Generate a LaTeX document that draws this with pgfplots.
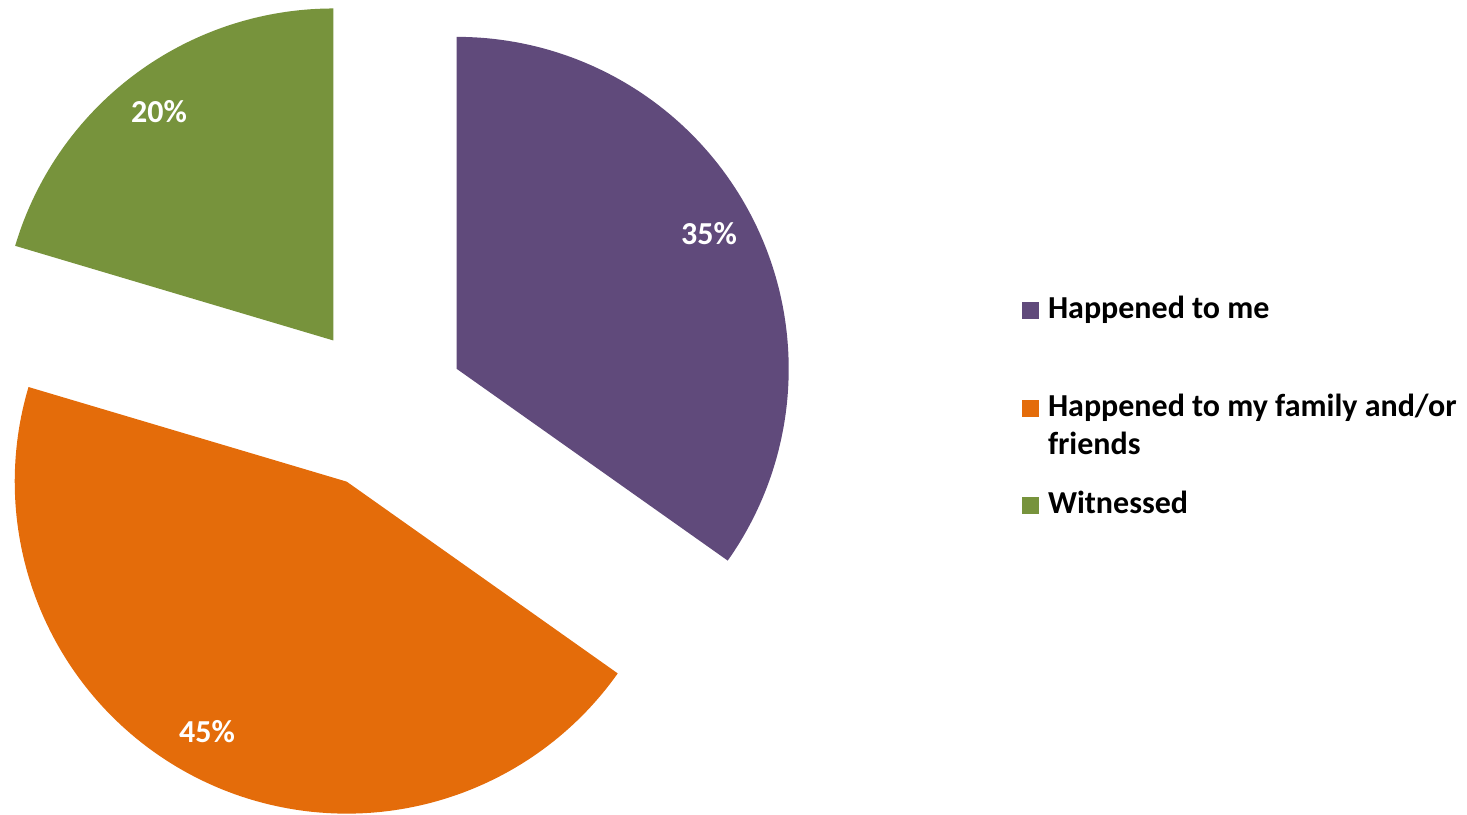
\documentclass[border=0pt]{standalone}
\usepackage{fontspec}
\setmainfont{Carlito}
\usepackage{pgfplots}
\pgfplotsset{compat=1.18}
\definecolor{purp}{HTML}{604A7B}
\definecolor{orng}{HTML}{E46C0A}
\definecolor{grn}{HTML}{77933C}
% shares (percent)
\def\vA{34.8}\def\vB{44.8}\def\vC{20.4}
% pie geometry in axis units (1 unit = 0.5pt)
\def\R{332}\def\D{83}\def\cx{383}\def\cy{407}
\pgfmathsetmacro\aA{90}
\pgfmathsetmacro\aB{\aA-3.6*\vA}
\pgfmathsetmacro\aC{\aB-3.6*\vB}
\pgfmathsetmacro\aD{\aC-3.6*\vC}
\pgfmathsetmacro\mA{(\aA+\aB)/2}
\pgfmathsetmacro\mB{(\aB+\aC)/2}
\pgfmathsetmacro\mC{(\aC+\aD)/2}
\pgfmathsetmacro\xA{\cx+\D*cos(\mA)}\pgfmathsetmacro\yA{\cy+\D*sin(\mA)}
\pgfmathsetmacro\xB{\cx+\D*cos(\mB)}\pgfmathsetmacro\yB{\cy+\D*sin(\mB)}
\pgfmathsetmacro\xC{\cx+\D*cos(\mC)}\pgfmathsetmacro\yC{\cy+\D*sin(\mC)}
\begin{document}
\begin{tikzpicture}
\begin{axis}[width=733.5pt,height=407pt,scale only axis,
  xmin=0,xmax=1467,ymin=0,ymax=814,hide axis,clip=false,
  legend style={at={(axis cs:1022,521.6)},anchor=north west,draw=none,fill=none,
    inner sep=0pt,outer sep=0pt,row sep=10.5pt,column sep=4.5pt,
    font=\fontsize{16}{19}\selectfont\bfseries,
    cells={anchor=base west},nodes={inner sep=0pt,text depth={},text height={}}},
  legend image code/.code={\fill[#1] (0pt,0pt) rectangle (8.5pt,8.5pt);}]
\path (axis cs:0,0) rectangle (axis cs:1467,814);
\addplot[fill=purp,draw=none,domain=\aB:\aA,samples=150]
  ({\xA+\R*cos(x)},{\yA+\R*sin(x)}) -- (axis cs:\xA,\yA) -- cycle;
\addlegendentry{\strut Happened to me\rule[-25.2pt]{0pt}{0pt}}
\addplot[fill=orng,draw=none,domain=\aC:\aB,samples=150]
  ({\xB+\R*cos(x)},{\yB+\R*sin(x)}) -- (axis cs:\xB,\yB) -- cycle;
\addlegendentry{\begin{tabular}[t]{@{}l@{}}Happened to my family and/or\\friends\end{tabular}}
\addplot[fill=grn,draw=none,domain=\aD:\aC,samples=150]
  ({\xC+\R*cos(x)},{\yC+\R*sin(x)}) -- (axis cs:\xC,\yC) -- cycle;
\addlegendentry{\strut Witnessed}
\node[text=white,font=\fontsize{16}{19}\selectfont\bfseries] at (axis cs:709,580) {35\%};
\node[text=white,font=\fontsize{16}{19}\selectfont\bfseries] at (axis cs:207,82) {45\%};
\node[text=white,font=\fontsize{16}{19}\selectfont\bfseries] at (axis cs:159,702) {20\%};
\end{axis}
\end{tikzpicture}
\end{document}
